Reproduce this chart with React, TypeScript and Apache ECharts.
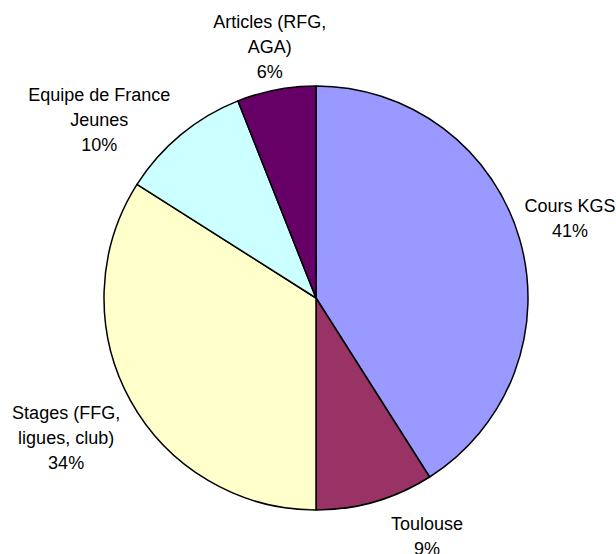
import React, { useEffect, useRef } from "react";
import * as echarts from "echarts";

const categories = [
  "Cours KGS",
  "Toulouse",
  "Stages (FFG,\nligues, club)",
  "Equipe de France\nJeunes",
  "Articles (RFG,\nAGA)",
];
const values = [41, 9, 34, 10, 6];
const colors = ["#9999FF", "#993366", "#FFFFCC", "#CCFFFF", "#660066"];

// label placement fine-tuning (pixels), style only
const labelShift: [number, number][] = [
  [-3, -11],
  [39, 1],
  [-8, 15],
  [-30, 22],
  [6, 4],
];

const CX = 316;
const CY = 298;
const R = 212;
const GAP = 10;

export default function App() {
  const ref = useRef<HTMLDivElement>(null);
  useEffect(() => {
    if (!ref.current) return;
    const chart = echarts.init(ref.current, null, { renderer: "svg" });
    const total = values.reduce((a, b) => a + b, 0);
    const mids: number[] = [];
    let acc = 0;
    values.forEach((v) => {
      mids.push(((acc + v / 2) / total) * Math.PI * 2);
      acc += v;
    });
    chart.setOption({
      animation: false,
      backgroundColor: "#ffffff",
      series: [
        {
          type: "pie",
          center: [CX, CY],
          radius: R,
          startAngle: 90,
          clockwise: true,
          data: categories.map((c, i) => ({
            name: c,
            value: values[i],
            itemStyle: { color: colors[i] },
          })),
          itemStyle: { borderColor: "#000000", borderWidth: 1.5 },
          label: {
            show: true,
            position: "center",
            overflow: "none",
            formatter: (p: any) => `${p.name}\n${Math.round(p.percent)}%`,
            fontFamily: "Liberation Sans, Arial, sans-serif",
            fontSize: 18,
            lineHeight: 25,
            color: "#000000",
            align: "center",
          },
          labelLine: { show: false },
          labelLayout: (params: any) => {
            const i = params.dataIndex;
            const a = mids[i];
            const s = Math.sin(a);
            const c = Math.cos(a);
            const w = params.labelRect.width;
            const h = params.labelRect.height;
            const px = CX + (R + GAP) * s;
            const py = CY - (R + GAP) * c;
            return {
              x: px + (w / 2) * s + labelShift[i][0],
              y: py - (h / 2) * c + labelShift[i][1],
              align: "center",
              verticalAlign: "middle",
            };
          },
          emphasis: { disabled: true },
        },
      ],
    });
    return () => chart.dispose();
  }, []);
  return (
    <div
      ref={ref}
      style={{ position: "fixed", left: 0, top: 0, width: 616, height: 554 }}
    />
  );
}
